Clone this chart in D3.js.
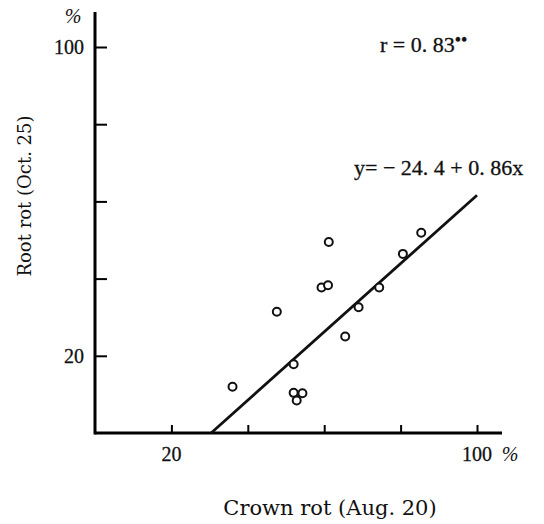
<!DOCTYPE html>
<html>
<head>
<meta charset="utf-8">
<script src="https://cdn.jsdelivr.net/npm/d3@7"></script>
<style>
  body { margin: 0; background: #fff; }
  text { font-family: "Liberation Serif", "DejaVu Serif", serif; fill: #111; }
</style>
</head>
<body>
<script>
// crown rot (Aug. 20) vs root rot (Oct. 25), %
const crownRot = [36.0, 47.6, 52.0, 52.0, 54.3, 52.8, 59.3, 61.0, 61.2, 65.5, 69.0, 74.4, 80.6, 85.4];
const rootRot  = [12.0, 31.4, 17.8, 10.4, 10.3, 8.4, 37.7, 38.3, 49.5, 25.0, 32.6, 37.7, 46.4, 51.9];
const xTicks = [20, 40, 60, 80, 100];
const yTicks = [20, 40, 60, 80, 100];
const xTickLabels = ["20", "", "", "", "100"];
const yTickLabels = ["20", "", "", "", "100"];
// regression line y = -24.4 + 0.86x as drawn
const fitLine = [[30.4, 0], [100, 61.6]];

const points = crownRot.map((x, i) => ({ x: x, y: rootRot[i] }));

const svg = d3.select("body").append("svg")
  .attr("width", 544).attr("height", 524);

const x = d3.scaleLinear().domain([0, 100]).range([95, 477]);
const y = d3.scaleLinear().domain([0, 100]).range([433, 47]);

/* axes */
const xAxis = svg.append("g").attr("transform", `translate(0,${y(0)})`)
  .call(d3.axisBottom(x).tickValues(xTicks).tickSizeInner(-8).tickSizeOuter(0).tickFormat(""));
xAxis.select(".domain").attr("d", `M${x(0)},0H502`).attr("stroke-width", 3);
xAxis.selectAll(".tick line").attr("stroke-width", 2);

const yAxis = svg.append("g").attr("transform", `translate(${x(0)},0)`)
  .call(d3.axisLeft(y).tickValues(yTicks).tickSizeInner(-12).tickSizeOuter(0).tickFormat(""));
yAxis.select(".domain").attr("d", `M0,12V${y(0) + 1.5}`).attr("stroke-width", 3);
yAxis.selectAll(".tick line").attr("stroke-width", 2);

/* tick labels */
svg.selectAll(".xlab").data(xTicks).enter().append("text")
  .attr("x", d => x(d)).attr("y", 461)
  .attr("text-anchor", "middle").attr("font-size", 20)
  .attr("stroke", "#111").attr("stroke-width", 0.3)
  .text((d, i) => xTickLabels[i]);
svg.append("text").attr("x", 510).attr("y", 461)
  .attr("font-size", 20).attr("font-style", "italic").attr("text-anchor", "middle").text("%");

svg.selectAll(".ylab").data(yTicks).enter().append("text")
  .attr("x", 84).attr("y", d => y(d) + 7)
  .attr("text-anchor", "end").attr("font-size", 20)
  .attr("stroke", "#111").attr("stroke-width", 0.3)
  .text((d, i) => yTickLabels[i]);
svg.append("text").attr("x", 73).attr("y", 23)
  .attr("font-size", 20).attr("font-style", "italic").attr("text-anchor", "middle").text("%");

/* axis titles */
svg.append("text").attr("x", 330).attr("y", 515)
  .attr("text-anchor", "middle").attr("font-size", 21)
  .style("font-family", "'DejaVu Serif', serif").text("Crown rot  (Aug. 20)");
svg.append("text").attr("transform", "translate(31,196) rotate(-90)")
  .attr("text-anchor", "middle").attr("font-size", 18)
  .style("font-family", "'DejaVu Serif', serif").text("Root rot  (Oct. 25)");

/* fit line */
svg.append("path").datum(fitLine)
  .attr("d", d3.line().x(d => x(d[0])).y(d => y(d[1])))
  .attr("stroke", "#111").attr("stroke-width", 2.8).attr("fill", "none");

/* points */
svg.selectAll("circle").data(points).enter().append("circle")
  .attr("cx", d => x(d.x)).attr("cy", d => y(d.y)).attr("r", 4)
  .attr("fill", "#fff").attr("stroke", "#111").attr("stroke-width", 2);

/* annotations */
const rText = svg.append("text").attr("x", 380).attr("y", 52).attr("font-size", 22)
  .attr("stroke", "#111").attr("stroke-width", 0.3);
rText.append("tspan").text("r = 0. 83");
rText.append("tspan").attr("font-size", 18).attr("dy", -6).text("\u2022\u2022");
svg.append("text").attr("x", 354).attr("y", 175).attr("font-size", 22)
  .attr("stroke", "#111").attr("stroke-width", 0.3)
  .text("y= \u2212 24. 4 + 0. 86x");
</script>
</body>
</html>
